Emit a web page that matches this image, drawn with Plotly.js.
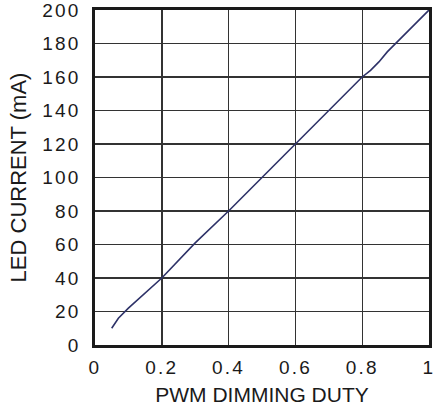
<!DOCTYPE html>
<html>
<head>
<meta charset="utf-8">
<script src="https://cdn.plot.ly/plotly-3.0.1.min.js"></script>
<style>
html,body{margin:0;padding:0;background:#fff;}
#chart{width:434px;height:408px;}
.xtick text,.ytick text{letter-spacing:2.2px;}
</style>
</head>
<body>
<div id="chart"></div>
<script>
var dutyCycle = [0.05, 0.07, 0.1, 0.15, 0.175, 0.2, 0.3, 0.4, 0.5, 0.6, 0.7, 0.8, 0.825, 0.85, 0.875, 0.9, 0.93, 0.96, 1.0];
var ledCurrent = [10, 16, 22, 31, 35, 40, 61, 80, 100, 120, 140, 160, 164, 169, 175, 180, 186, 192, 200];
var xTickVals = [0, 0.2, 0.4, 0.6, 0.8, 1];
var xTickText = ['0', '0.2', '0.4', '0.6', '0.8', '1'];
var yTickVals = [0, 20, 40, 60, 80, 100, 120, 140, 160, 180, 200];

var trace = {
  x: dutyCycle,
  y: ledCurrent,
  type: 'scatter',
  mode: 'lines',
  line: {color: '#2e3268', width: 1.6},
  hoverinfo: 'none'
};

var fontFam = 'Liberation Sans, Arial, sans-serif';
var layout = {
  width: 434,
  height: 408,
  margin: {l: 95, r: 5, t: 10, b: 63},
  paper_bgcolor: '#ffffff',
  plot_bgcolor: '#ffffff',
  showlegend: false,
  font: {family: fontFam, color: '#1a1a1a', size: 19},
  xaxis: {
    range: [0, 1],
    tickvals: xTickVals,
    ticktext: xTickText,
    ticklabeloverflow: 'allow',
    showgrid: true,
    gridcolor: '#333333',
    gridwidth: 1.4,
    zeroline: false,
    showline: true,
    mirror: true,
    linecolor: '#1a1a1a',
    linewidth: 2.6,
    ticks: '',
    tickfont: {family: fontFam, size: 19, color: '#1a1a1a'},
    ticklabelstandoff: 4,
    title: {text: 'PWM DIMMING DUTY', font: {family: fontFam, size: 21, color: '#1a1a1a'}, standoff: 10}
  },
  yaxis: {
    range: [0, 200],
    tickvals: yTickVals,
    ticklabeloverflow: 'allow',
    showgrid: true,
    gridcolor: '#333333',
    gridwidth: 1.4,
    zeroline: false,
    showline: true,
    mirror: true,
    linecolor: '#1a1a1a',
    linewidth: 2.6,
    ticks: '',
    tickfont: {family: fontFam, size: 19, color: '#1a1a1a'},
    ticklabelstandoff: 8,
    title: {text: 'LED CURRENT (mA)', font: {family: fontFam, size: 22, color: '#1a1a1a'}, standoff: 10}
  }
};

Plotly.newPlot('chart', [trace], layout, {displayModeBar: false, staticPlot: true});
</script>
</body>
</html>
